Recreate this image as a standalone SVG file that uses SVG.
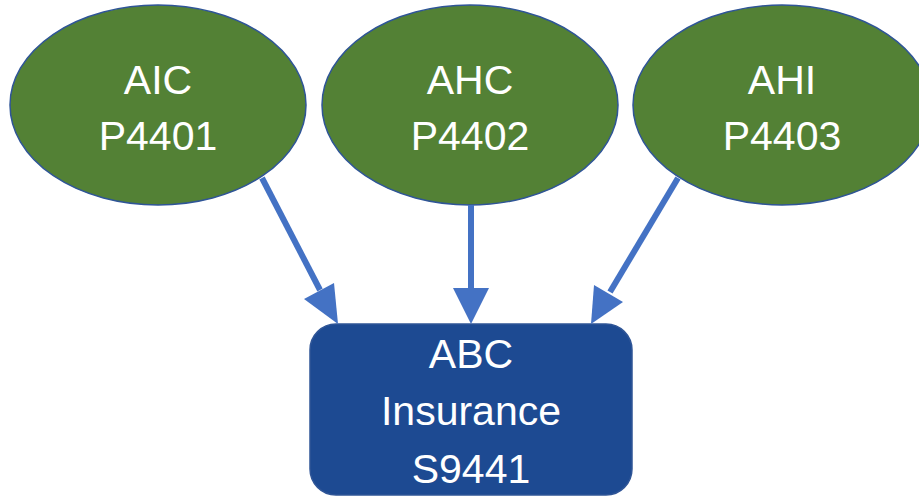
<svg xmlns="http://www.w3.org/2000/svg" width="919" height="497" viewBox="0 0 919 497">
<style>
.ell{fill:#538135;stroke:#2F5597;stroke-width:1.5}
.box{fill:#1D4A92;stroke:#2F5597;stroke-width:1.5}
.t{font-family:"Liberation Sans",Arial,sans-serif;font-size:41px;fill:#ffffff;text-anchor:middle}
.c{stroke:#4472C4;stroke-width:6;fill:none}
.h{fill:#4472C4}
</style>
<rect width="919" height="497" fill="#ffffff"/>
<g id="n1">
<ellipse class="ell" cx="158" cy="105" rx="148" ry="100"/>
<text class="t" x="158" y="94">AIC</text>
<text class="t" x="158" y="150">P4401</text>
</g>
<g id="n2">
<ellipse class="ell" cx="470" cy="105" rx="148" ry="100"/>
<text class="t" x="470" y="94">AHC</text>
<text class="t" x="470" y="150">P4402</text>
</g>
<g id="n3">
<ellipse class="ell" cx="782" cy="105" rx="149" ry="100"/>
<text class="t" x="782" y="94">AHI</text>
<text class="t" x="782" y="150">P4403</text>
</g>
<g id="n4">
<rect class="box" x="310" y="324" width="322" height="171" rx="26" ry="26"/>
<text class="t" x="471" y="368">ABC</text>
<text class="t" x="471" y="425">Insurance</text>
<text class="t" x="471" y="483">S9441</text>
</g>
<g id="connectors">
<line class="c" x1="262" y1="178" x2="320" y2="290"/>
<polygon class="h" points="338,324 304,299 334,283"/>
<line class="c" x1="471" y1="205" x2="471" y2="292"/>
<polygon class="h" points="471,324 453,288 489,288"/>
<line class="c" x1="678" y1="178" x2="610" y2="292"/>
<polygon class="h" points="591,324 594,285 623,302"/>
</g>
</svg>
